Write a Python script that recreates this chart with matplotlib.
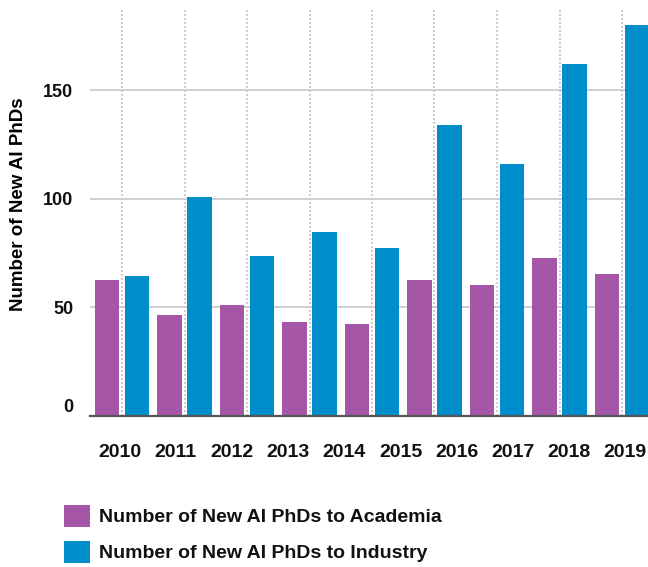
import numpy as np
import matplotlib
matplotlib.use("Agg")
import matplotlib.pyplot as plt
import matplotlib.transforms as mtransforms
from matplotlib.patches import Patch

plt.rcParams['font.family'] = ['Liberation Sans', 'DejaVu Sans']
plt.rcParams['text.color'] = '#111111'
plt.rcParams['xtick.color'] = '#111111'
plt.rcParams['ytick.color'] = '#111111'

# values (9 visible bar pairs, 10 year labels)
academia = [62.7, 46.6, 51.2, 43.4, 42.5, 62.8, 60.4, 72.9, 65.5]
industry = [64.6, 100.9, 73.8, 84.8, 77.5, 134.0, 116.1, 162.1, 180.0]
years = ['2010', '2011', '2012', '2013', '2014', '2015', '2016', '2017', '2018', '2019']
yticks = [0, 50, 100, 150]

purple = '#A656A6'
blue = '#008DCC'

W, H = 648, 567
fig = plt.figure(figsize=(W / 100, H / 100), dpi=100)

# main plot area in pixels
left_px, right_px, top_px, bottom_px = 90, 648, 9, 416
ax = fig.add_axes([left_px / W, 1 - bottom_px / H,
                   (right_px - left_px) / W, (bottom_px - top_px) / H])

x = np.arange(len(academia))
off, bw = 0.24, 0.39
ax.bar(x - off, academia, width=bw, color=purple, zorder=3)
ax.bar(x + off, industry, width=bw, color=blue, zorder=3)

ax.set_xlim(-0.512, 8.416)
ax.set_ylim(0, 187.3)

# dotted vertical grid at group centres
ax.set_xticks(x)
ax.tick_params(axis='x', length=0, labelbottom=False)
ax.xaxis.grid(True, color='#c4c4c4', linestyle=(0, (1.2, 1.2)), linewidth=1.2, zorder=1)

ax.set_yticks(yticks)
ax.set_yticklabels([str(t) for t in yticks], fontsize=13, fontweight='bold')
ax.tick_params(axis='y', length=0, pad=12)
ax.yaxis.grid(True, color='#cccccc', linewidth=1.3, zorder=1)
# the zero label sits a bit above the baseline in the original
zero_lab = ax.get_yticklabels()[0]
zero_lab.set_transform(zero_lab.get_transform() +
                       mtransforms.ScaledTranslation(0, 11 / 100, fig.dpi_scale_trans))

for s in ['top', 'right', 'left']:
    ax.spines[s].set_visible(False)
ax.spines['bottom'].set_color('#555555')
ax.spines['bottom'].set_linewidth(1.6)
ax.spines['bottom'].set_zorder(4)

ax.set_ylabel('Number of New AI PhDs', fontsize=13.5, fontweight='bold')
ax.yaxis.set_label_coords(-0.113, 0.521)

# year labels, evenly spread under the plot
lab_left, lab_width = 91.4, 562
lax = fig.add_axes([lab_left / W, 1 - bottom_px / H, lab_width / W, 0.001])
lax.set_xlim(-0.5, len(years) - 0.5)
lax.set_xticks(np.arange(len(years)))
lax.set_xticklabels(years, fontsize=14, fontweight='bold')
lax.tick_params(axis='x', length=0, pad=20)
lax.set_yticks([])
for s in lax.spines.values():
    s.set_visible(False)
lax.patch.set_alpha(0)

handles = [Patch(facecolor=purple, edgecolor='none'), Patch(facecolor=blue, edgecolor='none')]
fig.legend(handles, ['Number of New AI PhDs to Academia', 'Number of New AI PhDs to Industry'],
           loc='upper left', bbox_to_anchor=(64 / W, 1 - 505 / H), frameon=False,
           borderpad=0, borderaxespad=0, handlelength=1.36, handleheight=1.36,
           handletextpad=0.46, labelspacing=0.72,
           prop={'size': 14, 'weight': 'bold'})

fig.savefig('out.png', dpi=100)
